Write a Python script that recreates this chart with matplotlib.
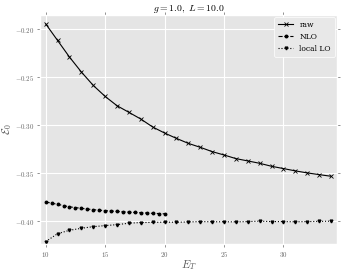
import numpy as np
import matplotlib
matplotlib.use("Agg")
import matplotlib.pyplot as plt

plt.style.use("ggplot")
plt.rcParams["mathtext.fontset"] = "cm"
plt.rcParams["font.family"] = "serif"
plt.rcParams["font.serif"] = ["DejaVu Serif"]

# data
et_raw = list(range(10, 35))
e_raw = [-0.1943, -0.2116, -0.2289, -0.2445, -0.2585, -0.2700, -0.2797, -0.2866,
         -0.2936, -0.3019, -0.3082, -0.3138, -0.3190, -0.3231, -0.3276, -0.3311,
         -0.3349, -0.3373, -0.3398, -0.3429, -0.3453, -0.3477, -0.3498, -0.3516,
         -0.3533]

et_nlo = [10 + 0.5 * i for i in range(21)]
e_nlo = [-0.3800, -0.3815, -0.3825, -0.3840, -0.3852, -0.3860, -0.3868, -0.3875,
         -0.3882, -0.3887, -0.3892, -0.3896, -0.3900, -0.3904, -0.3908, -0.3911,
         -0.3914, -0.3917, -0.3920, -0.3922, -0.3925]

et_lo = list(range(10, 35))
e_lo = [-0.4215, -0.4132, -0.4097, -0.4076, -0.4059, -0.4048, -0.4038, -0.4023,
        -0.4016, -0.4015, -0.4012, -0.4013, -0.4010, -0.4006, -0.4008, -0.4008,
        -0.4009, -0.4006, -0.4002, -0.4006, -0.4006, -0.4008, -0.4006, -0.4004,
        -0.4002]

fig = plt.figure(figsize=(3.42, 2.74), dpi=100)
ax = fig.add_axes([40 / 342, 30 / 274, 297 / 342, 229 / 274])

ax.plot(et_raw, e_raw, "-", color="k", marker="x", ms=3, lw=0.8, mew=0.6, label="raw")
ax.plot(et_nlo, e_nlo, "--", color="k", marker="o", ms=1.8, lw=0.8, label="NLO")
ax.plot(et_lo, e_lo, ":", color="k", marker="v", ms=2, lw=0.8, label="local LO")

ax.set_xlim(9.52, 34.5)
ax.set_ylim(-0.424, -0.185)
ax.set_xticks([10, 15, 20, 25, 30])
ax.set_yticks([-0.20, -0.25, -0.30, -0.35, -0.40])
ax.set_xticklabels(["$10$", "$15$", "$20$", "$25$", "$30$"])
ax.set_yticklabels(["$-0.20$", "$-0.25$", "$-0.30$", "$-0.35$", "$-0.40$"])
ax.tick_params(labelsize=5, colors="#666666", length=2, width=0.5, pad=2,
               top=True, right=True, direction="out")

ax.set_xlabel("$E_T$", fontsize=8, color="#555555", labelpad=0)
ax.set_ylabel(r"$\mathcal{E}_0$", fontsize=8, color="#555555", labelpad=1)
ax.set_title("$g=1.0,\\ L=10.0$", fontsize=7, pad=3)

leg = ax.legend(loc="upper right", fontsize=5.5, handlelength=2.0, framealpha=1,
                facecolor="#e8e8e8", edgecolor="white", borderpad=0.5,
                labelspacing=0.5, borderaxespad=0.3)

plt.savefig("out.png", dpi=100)
